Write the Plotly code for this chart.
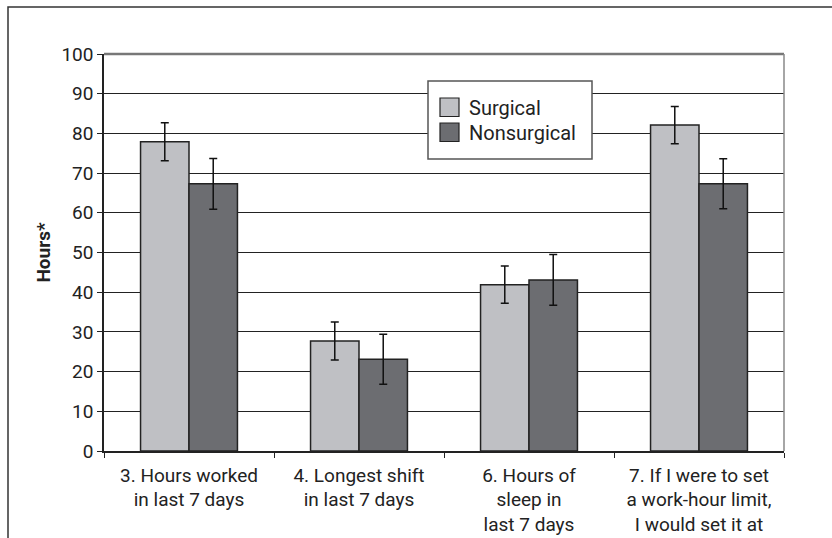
import plotly.graph_objects as go

categories = [
    "3. Hours worked<br>in last 7 days",
    "4. Longest shift<br>in last 7 days",
    "6. Hours of<br>sleep in<br>last 7 days",
    "7. If I were to set<br>a work-hour limit,<br>I would set it at",
]
surgical = [77.9, 27.7, 41.9, 82.1]
surgical_err = [4.8, 4.8, 4.7, 4.7]
nonsurgical = [67.3, 23.1, 43.1, 67.3]
nonsurgical_err = [6.4, 6.3, 6.4, 6.3]
y_ticks = [0, 10, 20, 30, 40, 50, 60, 70, 80, 90, 100]
series_names = ["Surgical", "Nonsurgical"]
series_colors = ["#bfc0c4", "#6c6d71"]

FONT = "Roboto, Liberation Sans Narrow, sans-serif"
FS = 19
W, H = 832, 538
ML, MR, MT, MB = 104, 48, 54, 87
pw, ph = W - ML - MR, H - MT - MB

def px_x(x):
    return (x - ML) / pw

def px_y(y):
    return (H - MB - y) / ph

fig = go.Figure()
for name, vals, errs, col in [
    (series_names[0], surgical, surgical_err, series_colors[0]),
    (series_names[1], nonsurgical, nonsurgical_err, series_colors[1]),
]:
    fig.add_trace(go.Bar(
        name=name, x=categories, y=vals,
        marker=dict(color=col, line=dict(color="#222222", width=1.5)),
        error_y=dict(type="data", array=errs, color="#111111", thickness=1.5, width=4),
    ))

shapes = [
    dict(type="line", xref="paper", yref="paper", x0=0, x1=1, y0=1, y1=1,
         line=dict(color="#777777", width=2.5)),
    dict(type="line", xref="paper", yref="paper", x0=1, x1=1, y0=0, y1=1,
         line=dict(color="#888888", width=1.5)),
    dict(type="rect", xref="paper", yref="paper",
         x0=px_x(8), x1=px_x(W + 20), y0=px_y(H + 20), y1=px_y(7),
         line=dict(color="#333333", width=1.5), layer="below"),
    # manual legend box
    dict(type="rect", xref="paper", yref="paper",
         x0=px_x(428), x1=px_x(592), y0=px_y(159), y1=px_y(81),
         fillcolor="white", line=dict(color="#555555", width=1.5), layer="above"),
]
annotations = []
for i, (name, col) in enumerate(zip(series_names, series_colors)):
    top = 98 + i * 25
    shapes.append(dict(type="rect", xref="paper", yref="paper",
                       x0=px_x(440), x1=px_x(459), y0=px_y(top + 18.5), y1=px_y(top),
                       fillcolor=col, line=dict(color="#222222", width=1.2), layer="above"))
    annotations.append(dict(xref="paper", yref="paper", x=px_x(467), y=px_y(top + 9.5),
                            text=name, showarrow=False, xanchor="left", yanchor="middle",
                            font=dict(family=FONT, size=FS + 1, color="#222222")))

fig.update_layout(
    width=W, height=H,
    margin=dict(l=ML, r=MR, t=MT, b=MB, pad=0),
    paper_bgcolor="white", plot_bgcolor="white",
    barmode="group", bargap=0.43, bargroupgap=0,
    font=dict(family=FONT, size=FS, color="#222222"),
    showlegend=False,
    xaxis=dict(
        tickson="boundaries", ticks="outside", ticklen=5, tickcolor="#222222",
        showline=True, linecolor="#222222", linewidth=1.5,
        showgrid=False, tickfont=dict(family=FONT, size=FS),
        ticklabelstandoff=6, automargin=False,
    ),
    yaxis=dict(
        range=[0, 100], tickvals=y_ticks, ticks="outside", ticklen=5,
        tickcolor="#222222", showline=True, linecolor="#222222", linewidth=1.5,
        showgrid=True, gridcolor="#222222", gridwidth=1, zeroline=False,
        tickfont=dict(family=FONT, size=FS), automargin=False,
        title=dict(text="<b>Hours*</b>", font=dict(family=FONT, size=FS), standoff=6),
    ),
    shapes=shapes,
    annotations=annotations,
)

fig.write_html("out.html", config={"displayModeBar": False},
               post_script="document.body.style.margin='0';")
